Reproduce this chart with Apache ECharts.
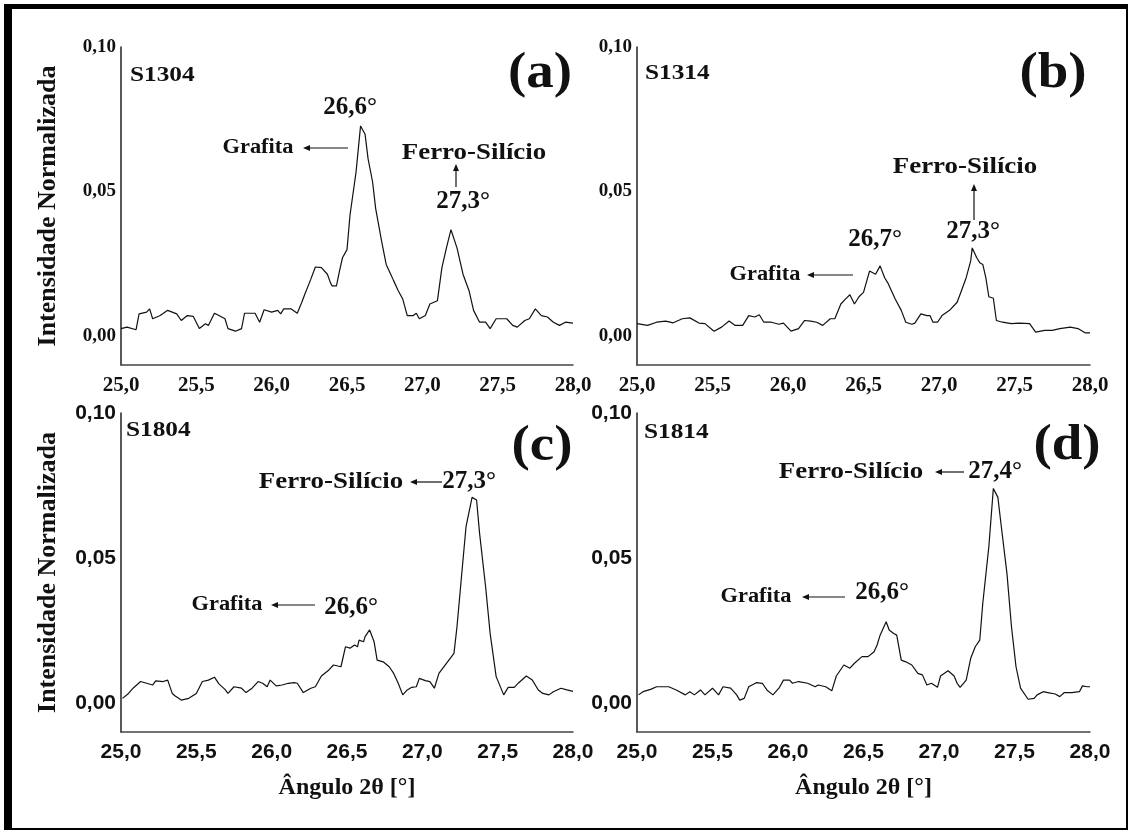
<!DOCTYPE html>
<html>
<head>
<meta charset="utf-8">
<script src="https://cdn.jsdelivr.net/npm/echarts@6/dist/echarts.min.js"></script>
<style>
  html, body { margin: 0; padding: 0; background: #fff; }
  #chart { width: 1132px; height: 832px; }
</style>
</head>
<body>
<div id="chart"></div>
<script>
// angle (2theta) and normalised intensity
var angA = [25.00,25.04,25.10,25.12,25.17,25.19,25.21,25.26,25.31,25.37,25.40,25.44,25.48,25.52,25.56,25.58,25.62,25.65,25.69,25.71,25.76,25.80,25.82,25.89,25.92,25.95,26.00,26.04,26.06,26.08,26.13,26.17,26.20,26.22,26.26,26.29,26.33,26.37,26.39,26.40,26.43,26.45,26.47,26.50,26.52,26.56,26.59,26.62,26.64,26.67,26.69,26.73,26.76,26.79,26.81,26.84,26.87,26.90,26.94,26.96,26.98,27.02,27.05,27.10,27.13,27.16,27.19,27.20,27.23,27.27,27.31,27.34,27.38,27.42,27.45,27.49,27.56,27.60,27.63,27.68,27.71,27.75,27.79,27.83,27.87,27.91,27.95,28.00];
var intA = [.0026,.0031,.0022,.0077,.0083,.0094,.0060,.0071,.0089,.0077,.0054,.0071,.0068,.0026,.0043,.0037,.0079,.0071,.0060,.0026,.0017,.0026,.0079,.0079,.0048,.0091,.0083,.0089,.0077,.0094,.0094,.0079,.0117,.0145,.0197,.0239,.0237,.0214,.0185,.0174,.0174,.0225,.0271,.0299,.0419,.0567,.0727,.0698,.0613,.0533,.0442,.0328,.0248,.0214,.0191,.0157,.0128,.0071,.0071,.0079,.0060,.0071,.0111,.0122,.0237,.0305,.0368,.0368,.0305,.0214,.0157,.0089,.0048,.0048,.0026,.0060,.0060,.0037,.0031,.0054,.0060,.0094,.0071,.0066,.0048,.0037,.0048,.0045];

var angB = [25.00,25.07,25.13,25.19,25.24,25.30,25.35,25.41,25.45,25.51,25.56,25.61,25.65,25.70,25.74,25.78,25.81,25.84,25.89,25.94,25.97,26.02,26.07,26.11,26.15,26.19,26.23,26.28,26.31,26.35,26.38,26.41,26.44,26.47,26.50,26.54,26.58,26.61,26.64,26.66,26.71,26.75,26.78,26.82,26.84,26.88,26.92,26.94,26.96,26.99,27.02,27.07,27.12,27.14,27.18,27.21,27.22,27.25,27.27,27.29,27.31,27.33,27.36,27.38,27.42,27.48,27.53,27.60,27.64,27.70,27.75,27.80,27.87,27.92,27.97,28.00];
var intB = [.0043,.0037,.0048,.0052,.0046,.0060,.0063,.0045,.0043,.0017,.0031,.0052,.0037,.0037,.0071,.0066,.0074,.0048,.0048,.0041,.0045,.0017,.0026,.0054,.0052,.0048,.0037,.0060,.0060,.0111,.0128,.0143,.0111,.0136,.0151,.0225,.0214,.0243,.0202,.0185,.0128,.0089,.0048,.0041,.0045,.0077,.0071,.0071,.0048,.0048,.0071,.0089,.0117,.0145,.0202,.0260,.0305,.0271,.0254,.0248,.0202,.0136,.0131,.0054,.0048,.0043,.0045,.0043,.0014,.0020,.0020,.0026,.0031,.0026,.0011,.0011];

var angC = [25.01,25.05,25.08,25.13,25.17,25.21,25.23,25.28,25.31,25.34,25.36,25.40,25.45,25.50,25.54,25.58,25.62,25.65,25.69,25.71,25.75,25.80,25.83,25.87,25.91,25.94,25.97,25.99,26.03,26.07,26.11,26.15,26.17,26.21,26.26,26.29,26.33,26.38,26.41,26.46,26.49,26.52,26.55,26.57,26.58,26.61,26.62,26.65,26.68,26.70,26.74,26.78,26.81,26.84,26.87,26.90,26.93,26.96,26.98,27.02,27.05,27.08,27.11,27.16,27.21,27.23,27.26,27.29,27.33,27.36,27.38,27.42,27.45,27.49,27.54,27.57,27.61,27.64,27.69,27.73,27.77,27.80,27.84,27.87,27.92,27.96,28.00];
var intC = [.0016,.0033,.0051,.0074,.0068,.0062,.0076,.0074,.0079,.0033,.0024,.0010,.0016,.0033,.0074,.0079,.0089,.0066,.0047,.0033,.0056,.0051,.0036,.0051,.0074,.0068,.0056,.0079,.0059,.0062,.0068,.0070,.0068,.0036,.0051,.0056,.0093,.0114,.0131,.0125,.0194,.0189,.0200,.0194,.0217,.0211,.0229,.0252,.0211,.0148,.0142,.0125,.0102,.0068,.0028,.0045,.0054,.0056,.0085,.0077,.0074,.0051,.0102,.0137,.0171,.0263,.0436,.0608,.0709,.0700,.0585,.0401,.0240,.0091,.0028,.0054,.0054,.0070,.0093,.0079,.0045,.0033,.0028,.0039,.0051,.0045,.0040];

var angD = [25.01,25.04,25.09,25.13,25.21,25.26,25.32,25.35,25.38,25.42,25.45,25.50,25.54,25.57,25.62,25.66,25.68,25.71,25.74,25.79,25.83,25.86,25.90,25.94,25.97,26.01,26.03,26.07,26.13,26.18,26.20,26.25,26.29,26.32,26.37,26.41,26.44,26.49,26.53,26.57,26.59,26.61,26.65,26.67,26.70,26.72,26.75,26.78,26.82,26.86,26.89,26.92,26.95,26.99,27.01,27.06,27.10,27.12,27.14,27.18,27.21,27.24,27.27,27.29,27.33,27.36,27.39,27.41,27.45,27.48,27.51,27.54,27.59,27.63,27.65,27.69,27.72,27.77,27.80,27.83,27.88,27.93,27.95,27.98,28.00];
var intD = [.0028,.0039,.0047,.0056,.0056,.0045,.0028,.0039,.0028,.0045,.0028,.0051,.0028,.0056,.0051,.0028,.0010,.0016,.0056,.0070,.0068,.0045,.0028,.0051,.0079,.0079,.0068,.0074,.0068,.0056,.0062,.0056,.0042,.0093,.0131,.0120,.0137,.0160,.0160,.0177,.0200,.0234,.0280,.0252,.0240,.0234,.0148,.0142,.0131,.0102,.0097,.0062,.0068,.0054,.0093,.0111,.0093,.0068,.0054,.0079,.0154,.0194,.0217,.0344,.0539,.0740,.0709,.0620,.0447,.0263,.0125,.0051,.0013,.0016,.0028,.0039,.0036,.0031,.0022,.0036,.0036,.0039,.0059,.0056,.0056];

var samples = ['S1304', 'S1314', 'S1804', 'S1814'];
var panelTags = ['(a)', '(b)', '(c)', '(d)'];
var yTickLabels = { 0: '0,00', 5: '0,05', 10: '0,10' };

var SERIF = '"Liberation Serif", "Times New Roman", serif';
var SANS = '"Liberation Sans", Arial, sans-serif';

var grids = [
    { left: 121, top: 47, width: 452, height: 318 },
    { left: 637, top: 47, width: 453, height: 318 },
    { left: 121, top: 413, width: 452, height: 319 },
    { left: 637, top: 413, width: 453, height: 319 }
];

function pairs(xs, ys) {
    var out = [];
    for (var i = 0; i < xs.length; i++) { out.push([xs[i], ys[i]]); }
    return out;
}

var allData = [pairs(angA, intA), pairs(angB, intB), pairs(angC, intC), pairs(angD, intD)];

var xAxes = [], yAxes = [], series = [];
for (var i = 0; i < 4; i++) {
    var bottom = i >= 2;
    var xa = {
        type: 'value', gridIndex: i, min: 25, max: 28, interval: 0.5,
        axisLine: { show: true, onZero: false, lineStyle: { color: '#444', width: 1.5 } },
        axisTick: { show: false }, splitLine: { show: false },
        axisLabel: {
            margin: 10, color: '#111', fontWeight: 'bold', fontSize: 21,
            fontFamily: bottom ? SANS : SERIF,
            formatter: function (v) { return v.toFixed(1).replace('.', ','); }
        }
    };
    if (bottom) {
        xa.name = 'Ângulo 2θ [°]';
        xa.nameLocation = 'middle';
        xa.nameGap = 44;
        xa.nameTextStyle = { fontFamily: SERIF, fontWeight: 'bold', fontSize: 24, color: '#111' };
    }
    xAxes.push(xa);

    var ya = {
        type: 'value', gridIndex: i, min: -0.01, max: 0.10, interval: 0.01,
        axisLine: { show: true, onZero: false, lineStyle: { color: '#222', width: 1.5 } },
        axisTick: { show: false }, splitLine: { show: false },
        axisLabel: {
            margin: 5, color: '#111', fontWeight: 'bold', fontSize: bottom ? 21 : 19,
            fontFamily: bottom ? SANS : SERIF,
            formatter: function (v) {
                var k = Math.round(v * 100);
                return yTickLabels[k] || '';
            }
        }
    };
    if (i % 2 === 0) {
        ya.name = 'Intensidade Normalizada';
        ya.nameLocation = 'middle';
        ya.nameRotate = 90;
        ya.nameGap = 60;
        ya.nameTextStyle = { fontFamily: SERIF, fontWeight: 'bold', fontSize: 26, color: '#111' };
    }
    yAxes.push(ya);

    series.push({
        type: 'line', xAxisIndex: i, yAxisIndex: i, data: allData[i],
        symbol: 'none', smooth: false, animation: false,
        lineStyle: { color: '#111', width: 1.2 }
    });
}

// annotation helpers (pixel layout)
function txt(x, y, s, size, sx, align) {
    return {
        type: 'text', x: x, y: y, scaleX: sx || 1, z: 10,
        style: {
            text: s, fill: '#111', font: 'bold ' + size + 'px ' + SERIF,
            textAlign: align || 'center', textVerticalAlign: 'middle'
        }
    };
}
function arrowLeft(x1, x2, y) {
    return [
        { type: 'line', z: 10, shape: { x1: x1, y1: y, x2: x2 + 5, y2: y }, style: { stroke: '#111', lineWidth: 1.2 } },
        { type: 'polygon', z: 10, shape: { points: [[x2, y], [x2 + 7, y - 3], [x2 + 7, y + 3]] }, style: { fill: '#111' } }
    ];
}
function arrowUp(x, y1, y2) {
    return [
        { type: 'line', z: 10, shape: { x1: x, y1: y1, x2: x, y2: y2 + 5 }, style: { stroke: '#111', lineWidth: 1.2 } },
        { type: 'polygon', z: 10, shape: { points: [[x, y2], [x - 3, y2 + 7], [x + 3, y2 + 7]] }, style: { fill: '#111' } }
    ];
}

var g = [];
// frame
g.push({ type: 'rect', shape: { x: 4, y: 4, width: 1124, height: 5 }, style: { fill: '#000' } });
g.push({ type: 'rect', shape: { x: 4, y: 4, width: 8, height: 826 }, style: { fill: '#000' } });
g.push({ type: 'rect', shape: { x: 4, y: 828, width: 1124, height: 2 }, style: { fill: '#000' } });
g.push({ type: 'rect', shape: { x: 1126, y: 4, width: 2, height: 826 }, style: { fill: '#000' } });

// sample names and panel tags
g.push(txt(130, 75, samples[0], 22, 1.15, 'left'));
g.push(txt(645, 73, samples[1], 22, 1.15, 'left'));
g.push(txt(126, 430, samples[2], 22, 1.15, 'left'));
g.push(txt(644, 432, samples[3], 22, 1.15, 'left'));
g.push(txt(540, 74, panelTags[0], 50, 1.1));
g.push(txt(1053, 74, panelTags[1], 50, 1.1));
g.push(txt(542, 447, panelTags[2], 50, 1.1));
g.push(txt(1067, 446, panelTags[3], 50, 1.1));

// (a)
g.push(txt(350, 108, '26,6°', 25));
g.push(txt(258, 148, 'Grafita', 20, 1.12));
g = g.concat(arrowLeft(348, 303, 148));
g.push(txt(474, 153, 'Ferro-Silício', 23, 1.17));
g = g.concat(arrowUp(456, 187, 164));
g.push(txt(463, 202, '27,3°', 25));
// (b)
g.push(txt(965, 167, 'Ferro-Silício', 23, 1.17));
g = g.concat(arrowUp(974, 220, 184));
g.push(txt(973, 232, '27,3°', 25));
g.push(txt(875, 240, '26,7°', 25));
g.push(txt(765, 275, 'Grafita', 20, 1.12));
g = g.concat(arrowLeft(853, 807, 275));
// (c)
g.push(txt(331, 482, 'Ferro-Silício', 23, 1.17));
g = g.concat(arrowLeft(442, 410, 482));
g.push(txt(469, 482, '27,3°', 25));
g.push(txt(227, 605, 'Grafita', 20, 1.12));
g = g.concat(arrowLeft(315, 271, 605));
g.push(txt(351, 608, '26,6°', 25));
// (d)
g.push(txt(851, 472, 'Ferro-Silício', 23, 1.17));
g = g.concat(arrowLeft(964, 935, 472));
g.push(txt(995, 472, '27,4°', 25));
g.push(txt(756, 597, 'Grafita', 20, 1.12));
g = g.concat(arrowLeft(845, 802, 597));
g.push(txt(882, 593, '26,6°', 25));

var chart = echarts.init(document.getElementById('chart'), null, { renderer: 'canvas' });
chart.setOption({
    backgroundColor: '#fff',
    animation: false,
    grid: grids,
    xAxis: xAxes,
    yAxis: yAxes,
    series: series,
    graphic: { elements: g }
});
</script>
</body>
</html>
